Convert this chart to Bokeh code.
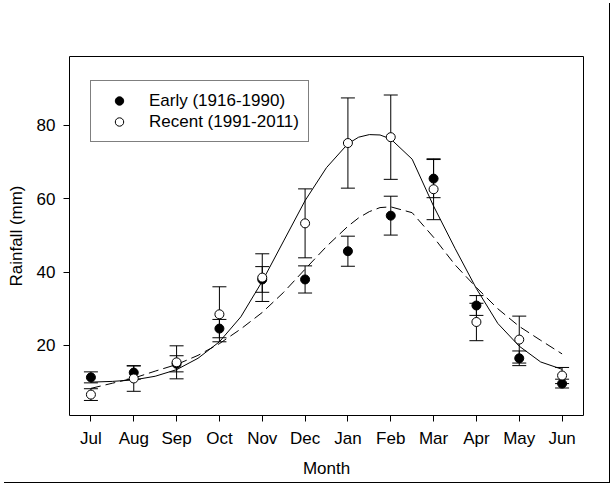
from bokeh.plotting import figure
from bokeh.models import (ColumnDataSource, Range1d, FixedTicker, Whisker, TeeHead,
                          Legend, LegendItem)
from bokeh.embed import file_html
from bokeh.resources import INLINE

# ---- data ----
months = ["Jul", "Aug", "Sep", "Oct", "Nov", "Dec", "Jan", "Feb", "Mar", "Apr", "May", "Jun"]
month_idx = [0, 1, 2, 3, 4, 5, 6, 7, 8, 9, 10, 11]

early_mean = [11.3, 12.6, 15.0, 24.6, 38.0, 38.0, 45.7, 55.4, 65.5, 30.9, 16.5, 9.6]
early_err = [1.5, 1.8, 2.2, 2.5, 3.5, 3.7, 4.1, 5.3, 5.2, 2.7, 2.0, 1.2]

recent_mean = [6.6, 11.0, 15.4, 28.5, 38.5, 53.3, 75.2, 76.8, 62.6, 26.4, 21.6, 11.8]
recent_err = [1.6, 3.5, 4.5, 7.5, 6.5, 9.4, 12.3, 11.5, 8.3, 5.1, 6.4, 2.2]

# fitted curves, read at half-month steps (quarter steps near the peak)
curve_x = [0, 0.5, 1, 1.5, 2, 2.5, 3, 3.5, 4, 4.5, 5, 5.5,
           6, 6.25, 6.5, 6.75, 7, 7.5, 8, 8.5, 9, 9.5, 10, 10.5, 11]
recent_fit = [10.0, 10.2, 10.6, 11.6, 13.4, 16.5, 21.0, 27.8, 37.5, 48.5, 59.5, 68.5,
              75.0, 76.8, 77.5, 77.4, 76.3, 70.8, 58.0, 46.5, 35.5, 26.0, 19.8, 15.5, 13.5]
early_fit = [8.3, 9.7, 11.1, 13.0, 14.8, 17.3, 20.5, 24.5, 29.0, 34.5, 40.8, 47.0,
             52.5, 54.8, 56.5, 57.6, 57.8, 56.2, 49.5, 42.0, 35.8, 30.0, 25.2, 21.4, 17.7]

y_ticks = [20, 40, 60, 80]

FONT = "Liberation Sans"

early_src = ColumnDataSource(dict(
    x=month_idx, y=early_mean,
    lo=[m - e for m, e in zip(early_mean, early_err)],
    hi=[m + e for m, e in zip(early_mean, early_err)]))
recent_src = ColumnDataSource(dict(
    x=month_idx, y=recent_mean,
    lo=[m - e for m, e in zip(recent_mean, recent_err)],
    hi=[m + e for m, e in zip(recent_mean, recent_err)]))

p = figure(width=606, height=480, output_backend="svg", toolbar_location=None,
           x_range=Range1d(-0.5, 11.5), y_range=Range1d(0.9, 98.8),
           min_border_left=69, min_border_right=23, min_border_top=56,
           min_border_bottom=65,
           styles={"box-shadow": "3px 2px 0 0 white, 4px 3px 0 0 black"})

p.grid.visible = False
p.outline_line_color = "black"
p.outline_line_width = 1
p.background_fill_color = "white"
p.border_fill_color = "white"

# axes
p.xaxis.ticker = FixedTicker(ticks=month_idx)
p.xaxis.major_label_overrides = {i: m for i, m in zip(month_idx, months)}
p.yaxis.ticker = FixedTicker(ticks=y_ticks)
for ax in (p.xaxis[0], p.yaxis[0]):
    ax.axis_line_color = None
    ax.major_tick_line_color = "black"
    ax.major_tick_in = 0
    ax.major_tick_out = 6
    ax.minor_tick_line_color = None
    ax.major_label_text_font = FONT
    ax.major_label_text_font_size = "17px"
    ax.major_label_text_color = "black"
    ax.axis_label_text_font = FONT
    ax.axis_label_text_font_size = "17px"
    ax.axis_label_text_font_style = "normal"
    ax.axis_label_text_color = "black"
p.xaxis.axis_label = "Month"
p.yaxis.axis_label = "Rainfall (mm)"
p.xaxis.major_label_standoff = 7
p.xaxis.axis_label_standoff = 8
p.yaxis.major_label_standoff = 8
p.yaxis.axis_label_standoff = 8

# fitted curves
p.line(curve_x, recent_fit, line_color="black", line_width=1)
p.line(curve_x, early_fit, line_color="black", line_width=1, line_dash="10 5")

# error bars
for src in (early_src, recent_src):
    w = Whisker(source=src, base="x", lower="lo", upper="hi", dimension="height",
                line_color="black", line_width=1,
                upper_head=TeeHead(size=14, line_color="black", line_width=1),
                lower_head=TeeHead(size=14, line_color="black", line_width=1))
    p.add_layout(w)

r_early = p.scatter("x", "y", source=early_src, size=9, marker="circle",
                    fill_color="black", line_color="black")
r_recent = p.scatter("x", "y", source=recent_src, size=9, marker="circle",
                     fill_color="white", line_color="black")

legend = Legend(items=[LegendItem(label="Early (1916-1990)", renderers=[r_early]),
                       LegendItem(label="Recent (1991-2011)", renderers=[r_recent])],
                location=(21, 273), margin=0, padding=9, spacing=0,
                glyph_width=38, glyph_height=21, label_height=21, label_standoff=11,
                label_text_font=FONT, label_text_font_size="17px",
                label_text_color="black",
                border_line_color="black", border_line_width=1,
                background_fill_color="white", background_fill_alpha=1)
p.add_layout(legend)

open("out.html", "w").write(file_html(p, INLINE))
